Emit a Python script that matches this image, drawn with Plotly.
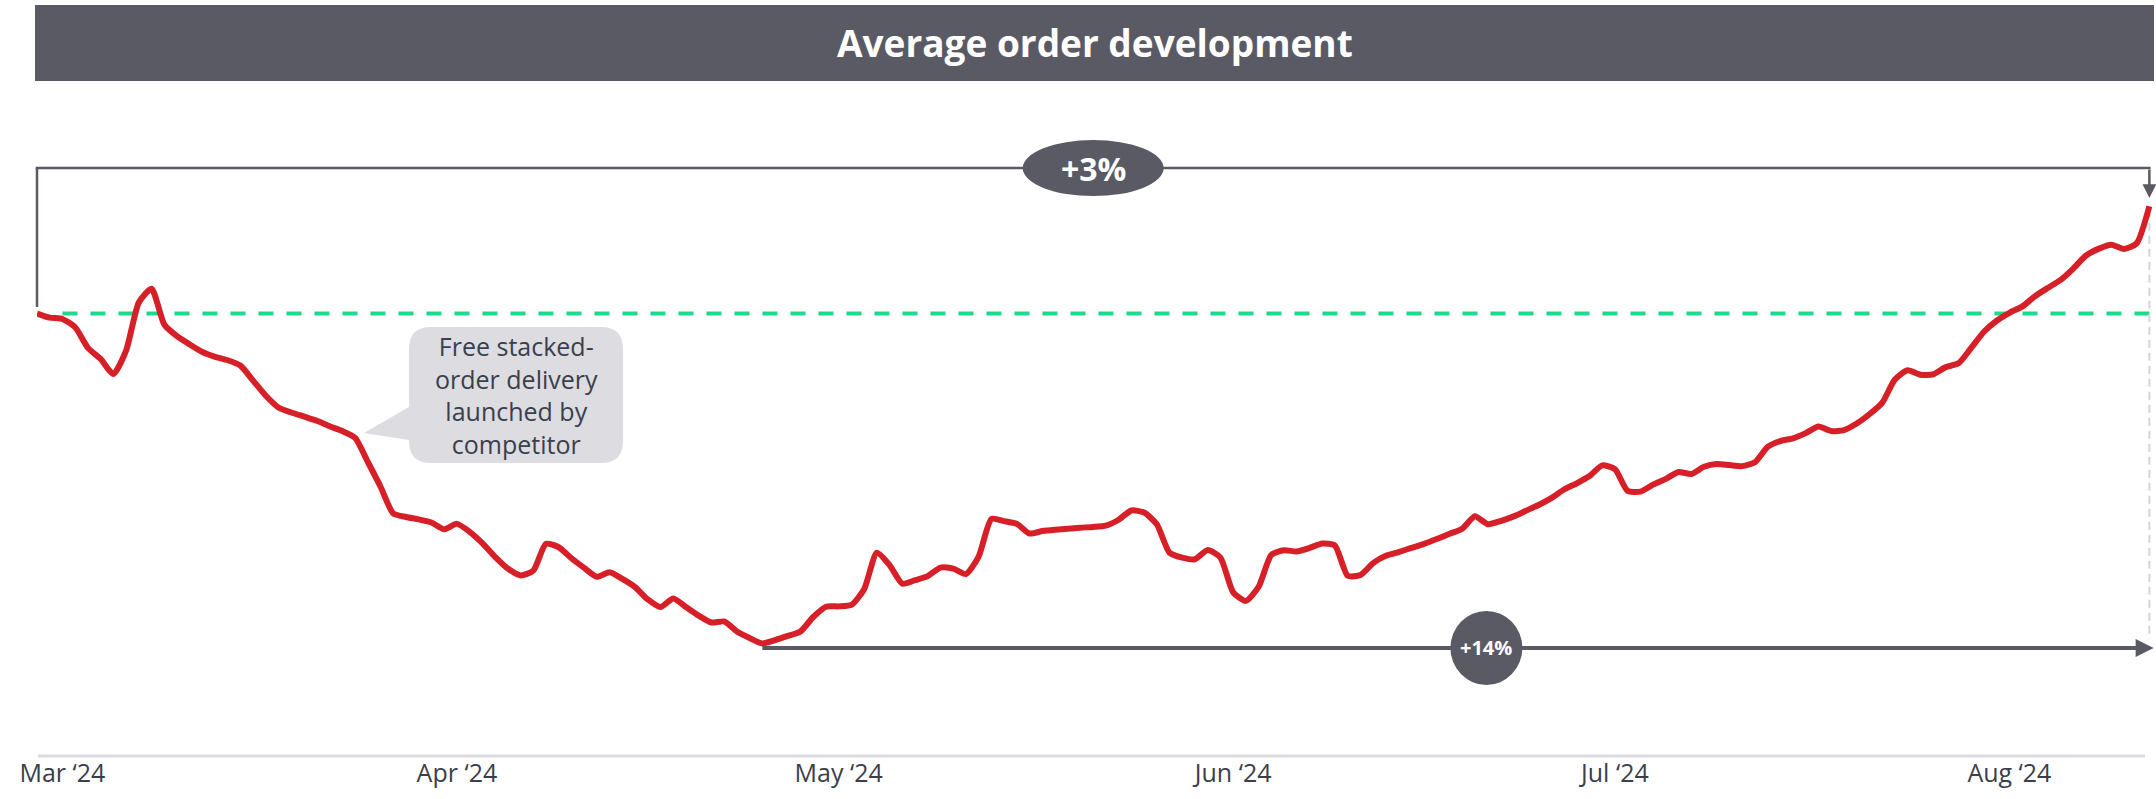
import pandas as pd
import plotly.graph_objects as go

# ---------------- data ----------------
start_date = "2024-02-28"
avg_order_index = [
    100.00, 99.88, 99.84, 99.60, 99.00, 98.68, 98.24, 98.92, 100.32, 100.72,
    99.68, 99.34, 99.10, 98.88, 98.74, 98.64, 98.48, 98.04, 97.60, 97.26,
    97.12, 97.00, 96.88, 96.72, 96.58, 96.38, 95.68, 94.96, 94.18, 94.08,
    94.01, 93.92, 93.72, 93.88, 93.65, 93.32, 92.92, 92.58, 92.38, 92.52,
    93.30, 93.20, 92.88, 92.60, 92.34, 92.47, 92.28, 92.04, 91.68, 91.46,
    91.71, 91.46, 91.21, 91.01, 91.04, 90.75, 90.56, 90.40, 90.50, 90.62,
    90.75, 91.17, 91.47, 91.48, 91.52, 91.98, 93.04, 92.68, 92.14, 92.24,
    92.36, 92.61, 92.58, 92.42, 92.93, 94.02, 93.96, 93.88, 93.60, 93.67,
    93.71, 93.74, 93.77, 93.79, 93.83, 94.00, 94.27, 94.21, 93.87, 93.04,
    92.90, 92.85, 93.12, 92.90, 91.89, 91.64, 92.05, 92.98, 93.11, 93.08,
    93.18, 93.31, 93.25, 92.37, 92.39, 92.74, 92.95, 93.06, 93.18, 93.30,
    93.44, 93.59, 93.74, 94.10, 93.87, 93.96, 94.09, 94.26, 94.43, 94.63,
    94.88, 95.06, 95.27, 95.58, 95.47, 94.84, 94.82, 95.02, 95.19, 95.39,
    95.33, 95.54, 95.62, 95.59, 95.56, 95.67, 96.12, 96.29, 96.37, 96.52,
    96.71, 96.58, 96.61, 96.80, 97.07, 97.40, 98.08, 98.35, 98.22, 98.23,
    98.44, 98.55, 99.00, 99.47, 99.79, 100.02, 100.20, 100.50, 100.74, 100.97,
    101.30, 101.68, 101.88, 102.00, 101.88, 102.04, 103.12,
]
tick_dates = ["2024-03-01", "2024-04-01", "2024-05-01", "2024-06-01", "2024-07-01", "2024-08-01"]
tick_labels = ["Mar \u201824", "Apr \u201824", "May \u201824", "Jun \u201824", "Jul \u201824", "Aug \u201824"]
title_text = "Average order development"
callout_lines = ["Free stacked-", "order delivery", "launched by", "competitor"]
total_change_label = "+3%"
low_change_label = "+14%"

dates = pd.date_range(start_date, periods=len(avg_order_index), freq="D")
values = avg_order_index

# ---------------- layout constants ----------------
FIG_W, FIG_H = 2156, 799
L, R, T, B = 37, 0, 90, 43
PW, PH = FIG_W - L - R, FIG_H - T - B
x_range = [pd.Timestamp("2024-02-28"), pd.Timestamp("2024-08-12 12:30")]
y_range = [87.127, 106.502]

DARK = "#5a5a64"
RED = "#d71f27"
GREEN = "#1cd98e"
FONT = "Open Sans"


def px_x(p):
    return (p - L) / PW


def px_y(p):
    return (FIG_H - B - p) / PH


def date_frac(d):
    return (pd.Timestamp(d) - x_range[0]) / (x_range[1] - x_range[0])


i_min = min(range(len(values)), key=lambda i: values[i])
bracket_y = max(values) + 1.11
low_arrow_y = values[i_min] - 0.13
mid_date = dates[0] + (dates[-1] - dates[0]) / 2
low_tip_date = dates[-1] + pd.Timedelta(hours=8)
low_bubble_date = dates[0] + pd.Timedelta(days=113.9)

fig = go.Figure()

# baseline (start value) dashed green
fig.add_trace(go.Scatter(
    x=[dates[2], dates[-1]], y=[values[0], values[0]], mode="lines",
    line=dict(color=GREEN, width=4, dash="15px,13px"), hoverinfo="skip", showlegend=False))
# light vertical dashed guide at end
fig.add_trace(go.Scatter(
    x=[dates[-1], dates[-1]], y=[values[-1] - 0.1, low_arrow_y + 0.25], mode="lines",
    line=dict(color="#d4d4da", width=2, dash="8px,5px"), hoverinfo="skip", showlegend=False))
# main series
fig.add_trace(go.Scatter(
    x=dates, y=values, mode="lines",
    line=dict(color=RED, width=6, shape="spline", smoothing=0.6),
    showlegend=False))

shapes = []
# title bar
shapes.append(dict(type="rect", xref="paper", yref="paper",
                   x0=px_x(35), x1=px_x(2154), y0=px_y(81), y1=px_y(5),
                   fillcolor=DARK, line=dict(width=0), layer="above"))
# x axis base line
shapes.append(dict(type="line", xref="paper", yref="paper",
                   x0=px_x(38), x1=px_x(2145), y0=0, y1=0,
                   line=dict(color="#dcdce0", width=3)))
# +3% bracket
shapes.append(dict(type="line", xref="paper", yref="y",
                   x0=date_frac(dates[0]), x1=date_frac(dates[0]),
                   y0=values[0] + 0.19, y1=bracket_y,
                   line=dict(color=DARK, width=2.5)))
shapes.append(dict(type="line", xref="paper", yref="y",
                   x0=date_frac(dates[0]) - 0.0006, x1=date_frac(dates[-1]) + 0.0006,
                   y0=bracket_y, y1=bracket_y,
                   line=dict(color=DARK, width=2.5)))
# +3% ellipse
shapes.append(dict(type="circle", xref="x", yref="y",
                   xsizemode="pixel", ysizemode="pixel",
                   xanchor=mid_date, yanchor=bracket_y,
                   x0=-70.5, x1=70.5, y0=-28, y1=28,
                   fillcolor=DARK, line=dict(width=0)))
# +14% arrow shaft (head added as annotation below)
shapes.append(dict(type="line", xref="x", yref="y",
                   x0=dates[i_min], x1=low_tip_date - pd.Timedelta(hours=20),
                   y0=low_arrow_y, y1=low_arrow_y,
                   line=dict(color=DARK, width=4)))
# +14% circle
shapes.append(dict(type="circle", xref="x", yref="y",
                   xsizemode="pixel", ysizemode="pixel",
                   xanchor=low_bubble_date, yanchor=low_arrow_y,
                   x0=-36, x1=36, y0=-37, y1=37,
                   fillcolor=DARK, line=dict(width=0)))

# callout bubble (pixel geometry converted to paper)
bx0, bx1, by0, by1, r = 409, 623, 327, 463, 22
pts = [
    ("M", [(bx0 + r, by0)]), ("L", [(bx1 - r, by0)]), ("Q", [(bx1, by0), (bx1, by0 + r)]),
    ("L", [(bx1, by1 - r)]), ("Q", [(bx1, by1), (bx1 - r, by1)]),
    ("L", [(bx0 + r, by1)]), ("Q", [(bx0, by1), (bx0, by1 - r)]),
    ("L", [(bx0, 440)]), ("L", [(364, 433)]), ("L", [(bx0, 407)]),
    ("L", [(bx0, by0 + r)]), ("Q", [(bx0, by0), (bx0 + r, by0)]),
]
path = ""
for cmd, plist in pts:
    path += cmd + " ".join(f"{px_x(a):.6f},{px_y(b):.6f}" for a, b in plist) + " "
path += "Z"
shapes.append(dict(type="path", xref="paper", yref="paper", path=path,
                   fillcolor="#dcdce1", line=dict(width=0)))

annotations = [
    # down arrow at end of +3% bracket
    dict(text="", x=dates[-1], y=values[-1] + 0.24, xref="x", yref="y",
         ax=dates[-1], ay=bracket_y, axref="x", ayref="y",
         showarrow=True, arrowhead=2, arrowsize=1.1, arrowwidth=2.5, arrowcolor=DARK,
         standoff=0),
    # +14% arrow head
    dict(text="", x=low_tip_date, y=low_arrow_y, xref="x", yref="y",
         ax=-40, ay=0,
         showarrow=True, arrowhead=2, arrowsize=0.9, arrowwidth=4, arrowcolor=DARK,
         standoff=0),
    dict(text=f"<b>{low_change_label}</b>", xref="x", yref="y",
         x=low_bubble_date, y=low_arrow_y, xanchor="center", yanchor="middle",
         showarrow=False, font=dict(family=FONT, size=20, color="white")),
    dict(text=f"<b>{title_text}</b>", xref="paper", yref="paper",
         x=px_x(1094.5), y=px_y(43), xanchor="center", yanchor="middle",
         showarrow=False, font=dict(family=FONT, size=37, color="white")),
    dict(text=f"<b>{total_change_label}</b>", xref="x", yref="y",
         x=mid_date, y=bracket_y, xanchor="center", yanchor="middle",
         showarrow=False, font=dict(family=FONT, size=32, color="white")),
    dict(text="<br>".join(callout_lines), xref="paper", yref="paper",
         x=px_x(516), y=px_y(395), xanchor="center", yanchor="middle", align="center",
         showarrow=False, font=dict(family=FONT, size=25, color="#3a3f4b")),
]

fig.update_layout(
    width=FIG_W, height=FIG_H,
    margin=dict(l=L, r=R, t=T, b=B, pad=0),
    paper_bgcolor="white", plot_bgcolor="white",
    shapes=shapes, annotations=annotations,
    font=dict(family=FONT, color="#3a3f4b"),
    hovermode=False,
)
fig.update_xaxes(type="date", range=x_range, tickvals=tick_dates, ticktext=tick_labels,
                 showgrid=False, zeroline=False, showline=False, ticks="",
                 tickfont=dict(family=FONT, size=25, color="#3a3f4b"))
fig.update_yaxes(range=y_range, visible=False, showgrid=False, zeroline=False)

fig.write_html("out.html", config={"displayModeBar": False},
               post_script="document.body.style.margin='0';document.body.style.overflow='hidden';")
